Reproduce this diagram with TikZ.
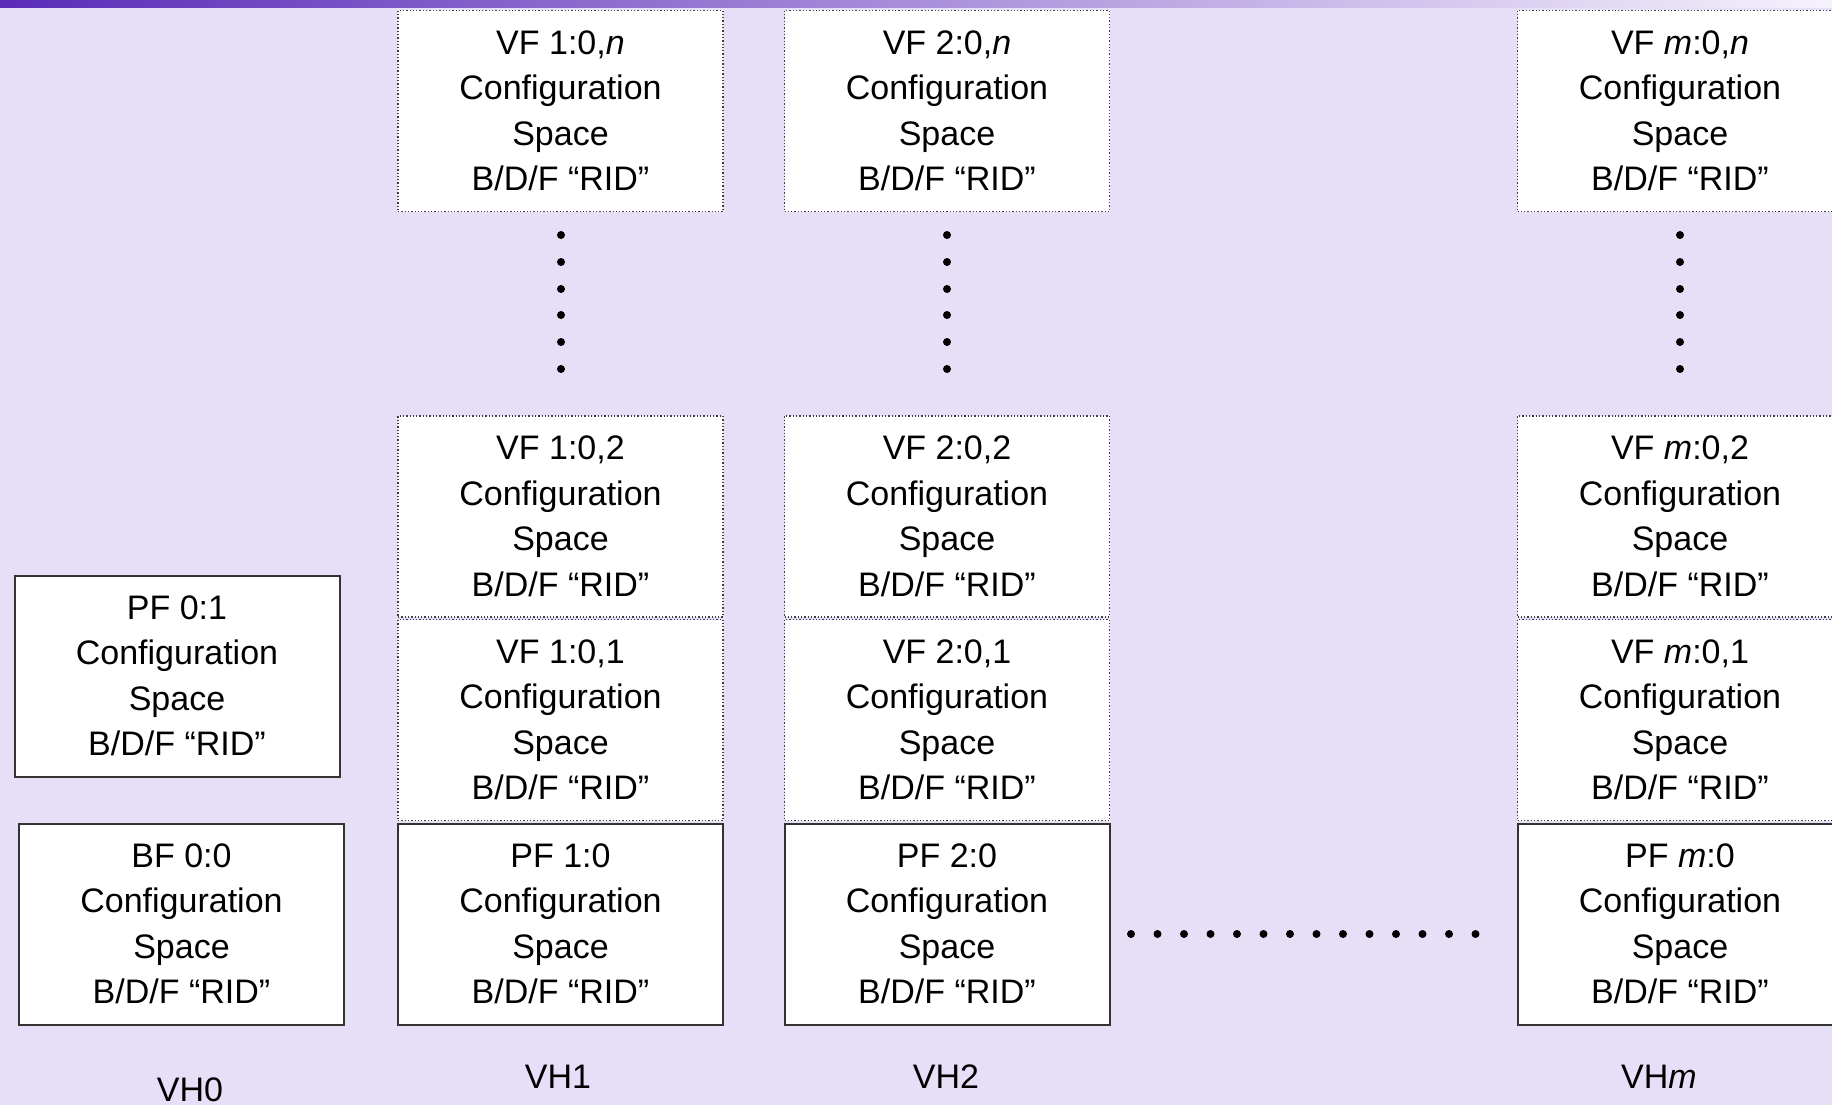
\documentclass[tikz,border=0pt]{standalone}
\usepackage{fontspec}
\setmainfont{Liberation Sans}
\definecolor{vhback}{HTML}{E7DFF8}
\definecolor{vhbar}{HTML}{5B2BB8}

\begin{document}
\begin{tikzpicture}[x=1pt, y=-1pt,
        every node/.style={minimum width=325pt, minimum height=201pt, inner sep=0pt, align=center, fill=white, font=\fontsize{34}{45.5}\selectfont},
        pfbox/.style={draw=black!80, line width=2pt},
        vfbox/.style={draw=black!75, line width=1.3pt, dash pattern=on 1.3pt off 2pt},
        vhlabel/.style={fill=none, minimum width=0pt, minimum height=0pt}]
        \useasboundingbox (0,0) rectangle (1832,1105);
        \clip (0,0) rectangle (1832,1105);
        \fill[vhback] (0,0) rectangle (1832,1105);
        \shade[left color=vhbar, right color=vhback!40!white] (0,0) rectangle (1832,8);

        % VH0
        \node[pfbox] (PF01) at (177,676) {PF 0:1\\Configuration\\Space\\B/D/F “RID”};
        \node[pfbox] (BF00) at (181.5,924) {BF 0:0\\Configuration\\Space\\B/D/F “RID”};

        % VH1
        \node[vfbox] (VF1n) at (560.5,111) {VF 1:0,\textit{n}\\Configuration\\Space\\B/D/F “RID”};
        \node[vfbox] (VF12) at (560.5,516.5) {VF 1:0,2\\Configuration\\Space\\B/D/F “RID”};
        \node[vfbox] (VF11) at (560.5,720) {VF 1:0,1\\Configuration\\Space\\B/D/F “RID”};
        \node[pfbox] (PF10) at (560.5,924) {PF 1:0\\Configuration\\Space\\B/D/F “RID”};

        % VH2
        \node[vfbox] (VF2n) at (947,111) {VF 2:0,\textit{n}\\Configuration\\Space\\B/D/F “RID”};
        \node[vfbox] (VF22) at (947,516.5) {VF 2:0,2\\Configuration\\Space\\B/D/F “RID”};
        \node[vfbox] (VF21) at (947,720) {VF 2:0,1\\Configuration\\Space\\B/D/F “RID”};
        \node[pfbox] (PF20) at (947,924) {PF 2:0\\Configuration\\Space\\B/D/F “RID”};

        % VHm
        \node[vfbox] (VFmn) at (1680,111) {VF \textit{m}:0,\textit{n}\\Configuration\\Space\\B/D/F “RID”};
        \node[vfbox] (VFm2) at (1680,516.5) {VF \textit{m}:0,2\\Configuration\\Space\\B/D/F “RID”};
        \node[vfbox] (VFm1) at (1680,720) {VF \textit{m}:0,1\\Configuration\\Space\\B/D/F “RID”};
        \node[pfbox] (PFm0) at (1680,924) {PF \textit{m}:0\\Configuration\\Space\\B/D/F “RID”};

        % dots
        \foreach \x in {561,947,1680}
            \foreach \y in {235,262,289,315,342,369}
                \fill (\x,\y) circle[radius=4pt];
        \foreach \i in {0,...,13}
            \fill (1131+26.5*\i,934) circle[radius=4pt];

        % labels
        \node[vhlabel] (VH0) at (190,1090) {VH0};
        \node[vhlabel] (VH1) at (558,1077) {VH1};
        \node[vhlabel] (VH2) at (946,1077) {VH2};
        \node[vhlabel] (VHm) at (1659,1077) {VH\textit{m}};
    \end{tikzpicture}
\end{document}
